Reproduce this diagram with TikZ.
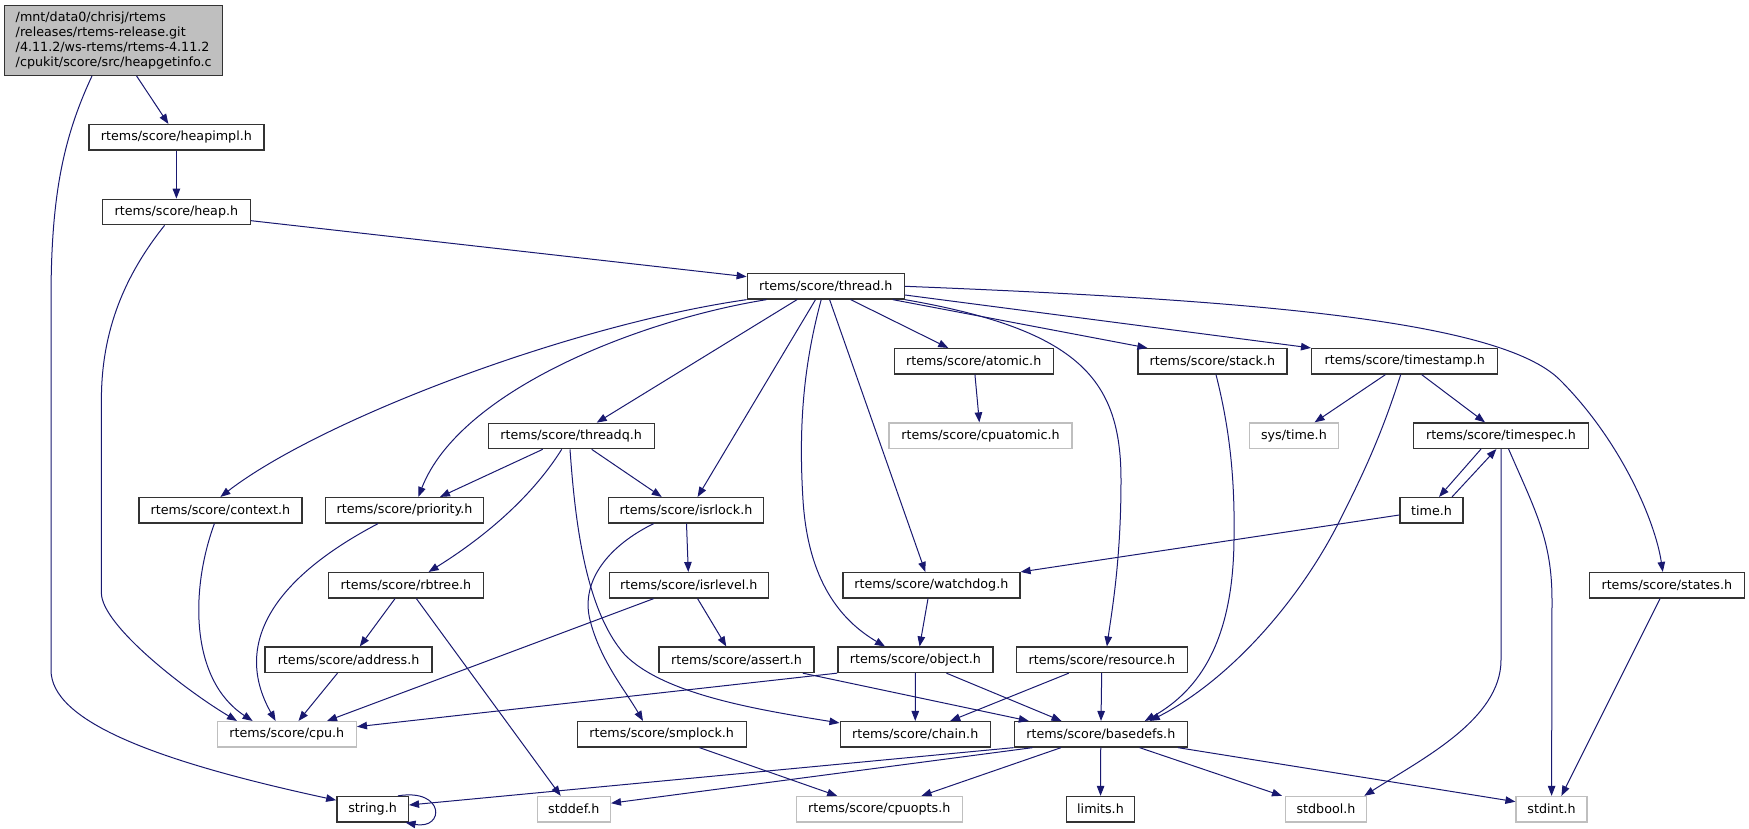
\documentclass[tikz,border=0pt]{standalone}
\usepackage{fontspec}
\setmainfont{DejaVu Sans}
\usetikzlibrary{arrows.meta}
\definecolor{edgeblue}{RGB}{25,25,112}
\definecolor{grey75}{RGB}{191,191,191}
\begin{document}
\begin{tikzpicture}[
		x=1pt, y=-1pt,
		file/.style={draw=black!80, line width=1.4pt, minimum height=25.3pt, inner sep=0pt,
				font=\fontsize{12.7}{14.8}\selectfont},
		sysfile/.style={file, draw=grey75},
		dep/.style={draw=edgeblue, line width=1pt, -{Triangle[length=10pt,width=7.5pt]}}
	]
	\useasboundingbox (0,0) rectangle (1749,829);

	\node[file, fill=grey75, minimum width=218pt, minimum height=69.6pt, align=left] (main) at (113.7,40.5)
	{/mnt/data0/chrisj/rtems\\/releases/rtems-release.git\\/4.11.2/ws-rtems/rtems-4.11.2\\/cpukit/score/src/heapgetinfo.c};
	\node[file, minimum width=175pt] (heapimpl) at (176.4,137.3) {rtems/score/heapimpl.h};
	\node[file, minimum width=148pt] (heap) at (176.4,212) {rtems/score/heap.h};
	\node[file, minimum width=157pt] (thread) at (825.8,286.3) {rtems/score/thread.h};
	\node[file, minimum width=159pt] (atomic) at (973.7,361.3) {rtems/score/atomic.h};
	\node[file, minimum width=149pt] (stack) at (1212.4,361.3) {rtems/score/stack.h};
	\node[file, minimum width=186pt] (timestamp) at (1404.7,361.3) {rtems/score/timestamp.h};
	\node[file, minimum width=166pt] (threadq) at (571.2,436) {rtems/score/threadq.h};
	\node[sysfile, minimum width=183pt] (cpuatomic) at (980.6,435.7) {rtems/score/cpuatomic.h};
	\node[sysfile, minimum width=89pt] (systime) at (1293.9,435.7) {sys/time.h};
	\node[file, minimum width=175pt] (timespec) at (1501,435.7) {rtems/score/timespec.h};
	\node[file, minimum width=163pt] (context) at (220.4,510.3) {rtems/score/context.h};
	\node[file, minimum width=158pt] (priority) at (404.5,510.3) {rtems/score/priority.h};
	\node[file, minimum width=155pt] (isrlock) at (686,510.3) {rtems/score/isrlock.h};
	\node[file, minimum width=63pt] (timeh) at (1431.5,510.3) {time.h};
	\node[file, minimum width=155pt] (rbtree) at (405.9,585.3) {rtems/score/rbtree.h};
	\node[file, minimum width=159pt] (isrlevel) at (688.8,585.3) {rtems/score/isrlevel.h};
	\node[file, minimum width=177pt] (watchdog) at (931.4,585.3) {rtems/score/watchdog.h};
	\node[file, minimum width=155pt] (states) at (1666.8,585.3) {rtems/score/states.h};
	\node[file, minimum width=167pt] (address) at (348.6,659.8) {rtems/score/address.h};
	\node[file, minimum width=155pt] (assert) at (736.6,659.8) {rtems/score/assert.h};
	\node[file, minimum width=155pt] (object) at (915.4,659.8) {rtems/score/object.h};
	\node[file, minimum width=171pt] (resource) at (1101.9,659.8) {rtems/score/resource.h};
	\node[sysfile, minimum width=139pt] (cpu) at (286.8,734.3) {rtems/score/cpu.h};
	\node[file, minimum width=169pt] (smplock) at (661.7,734.3) {rtems/score/smplock.h};
	\node[file, minimum width=150pt] (chain) at (915.2,734.3) {rtems/score/chain.h};
	\node[file, minimum width=173pt] (basedefs) at (1100.8,734.3) {rtems/score/basedefs.h};
	\node[file, minimum width=71.5pt] (string) at (372.6,809.2) {string.h};
	\node[sysfile, minimum width=73pt] (stddef) at (573.8,809.2) {stddef.h};
	\node[sysfile, minimum width=166pt] (cpuopts) at (879.2,809.2) {rtems/score/cpuopts.h};
	\node[file, minimum width=68pt] (limits) at (1100.5,809.2) {limits.h};
	\node[sysfile, minimum width=81pt] (stdbool) at (1326,809.2) {stdbool.h};
	\node[sysfile, minimum width=71pt] (stdint) at (1551.6,809.2) {stdint.h};

	\draw[dep] ([xshift=22.9pt]main.south) -- ([xshift=-8pt]heapimpl.north);
	\draw[dep] ([xshift=-21.7pt]main.south) .. controls (62,140) and (51,200) .. (51,300) -- (51,670)
		.. controls (51,720) and (150,760) .. ([yshift=9pt]string.west);
	\draw[dep] (heapimpl) -- (heap);
	\draw[dep] ([xshift=-11.8pt]heap.south) .. controls (125,275) and (101.4,330) .. (101.4,400) -- (101.4,593)
		.. controls (101.4,625) and (185,690) .. ([xshift=-49.8pt]cpu.north);
	\draw[dep] ([yshift=-8.7pt]heap.east) -- ([yshift=9.6pt]thread.west);

	\draw[dep] (thread.south west) .. controls (570,325) and (320,420) .. (context.north);
	\draw[dep] ([xshift=-59.3pt]thread.south) .. controls (640,320) and (460,390) .. ([xshift=13.8pt]priority.north);
	\draw[dep] ([xshift=-28.8pt]thread.south) -- ([xshift=25.5pt]threadq.north);
	\draw[dep] ([xshift=-10.3pt]thread.south) -- ([xshift=11.6pt]isrlock.north);
	\draw[dep] ([xshift=-4.6pt]thread.south) .. controls (805,360) and (798,420) .. (803,500)
		.. controls (808,580) and (840,620) .. ([xshift=-30.4pt]object.north);
	\draw[dep] ([xshift=3.8pt]thread.south) -- ([xshift=-6.1pt]watchdog.north);
	\draw[dep] ([xshift=24.9pt]thread.south) -- ([xshift=-25.4pt]atomic.north);
	\draw[dep] (thread.south east) .. controls (1080,330) and (1121,380) .. (1121,480)
		.. controls (1121,560) and (1112,610) .. ([xshift=5pt]resource.north);
	\draw[dep] ([xshift=67pt]thread.south) -- ([xshift=-65pt]stack.north);
	\draw[dep] ([yshift=-8.7pt]thread.east) -- (timestamp.north west);
	\draw[dep] (thread.east) .. controls (1250,300) and (1500,320) .. (1560,380)
		.. controls (1620,440) and (1655,520) .. ([xshift=-4pt]states.north);

	\draw[dep] (atomic) -- (cpuatomic);
	\draw[dep] ([xshift=-28.5pt]threadq.south) -- ([xshift=35.5pt]priority.north);
	\draw[dep] ([xshift=20.5pt]threadq.south) -- ([xshift=-24.3pt]isrlock.north);
	\draw[dep] ([xshift=-9.5pt]threadq.south) .. controls (530,500) and (480,540) .. ([xshift=22.7pt]rbtree.north);
	\draw[dep] ([xshift=-1.2pt]threadq.south) .. controls (575,520) and (585,610) .. (625,655)
		.. controls (665,695) and (760,710) .. ([yshift=-2pt]chain.north west);
	\draw[dep] ([xshift=-6pt]context.south) .. controls (190,590) and (190,680) .. ([xshift=-34.2pt]cpu.north);
	\draw[dep] ([xshift=-26.5pt]priority.south) .. controls (280,575) and (230,640) .. ([xshift=-11.2pt]cpu.north);
	\draw[dep] (isrlock) -- (isrlevel);
	\draw[dep] ([xshift=-32.4pt]isrlock.south) .. controls (610,545) and (580,580) .. (590,620)
		.. controls (600,660) and (625,690) .. ([xshift=-18.7pt]smplock.north);

	\draw[dep] ([xshift=-10.9pt]rbtree.south) -- ([xshift=11.2pt]address.north);
	\draw[dep] ([xshift=10.5pt]rbtree.south) -- ([xshift=-13.1pt]stddef.north);
	\draw[dep] ([xshift=-11.1pt]address.south) -- ([xshift=11.7pt]cpu.north);
	\draw[dep] ([xshift=-35.2pt]isrlevel.south) -- ([xshift=40.2pt]cpu.north);
	\draw[dep] ([xshift=8.8pt]isrlevel.south) -- ([xshift=-10.3pt]assert.north);
	\draw[dep] ([xshift=66.2pt]assert.south) -- ([xshift=-72pt]basedefs.north);
	\draw[dep] ([xshift=-3.4pt]watchdog.south) -- ([xshift=4.2pt]object.north);
	\draw[dep] (object.south west) -- ([yshift=7.6pt]cpu.east);
	\draw[dep] (object) -- (chain);
	\draw[dep] ([xshift=31pt]object.south) -- ([xshift=-39.3pt]basedefs.north);
	\draw[dep] ([xshift=-33.1pt]resource.south) -- ([xshift=35pt]chain.north);
	\draw[dep] (resource) -- (basedefs);
	\draw[dep] ([xshift=3.6pt]stack.south) .. controls (1230,430) and (1235,480) .. (1234,540)
		.. controls (1233,640) and (1200,690) .. ([xshift=44pt]basedefs.north);

	\draw[dep] ([xshift=-19.3pt]timestamp.south) -- ([xshift=20.7pt]systime.north);
	\draw[dep] ([xshift=17pt]timestamp.south) -- ([xshift=-16pt]timespec.north);
	\draw[dep] ([xshift=-4pt]timestamp.south) .. controls (1380,440) and (1360,480) .. (1340,520)
		.. controls (1300,600) and (1230,680) .. ([xshift=49pt]basedefs.north);
	\draw[dep] ([xshift=-20pt]timespec.south) -- ([xshift=7.5pt]timeh.north);
	\draw[dep] ([xshift=20.5pt]timeh.north) -- ([xshift=-4.6pt]timespec.south);
	\draw[dep] ([yshift=-4.7pt]timeh.west) -- (watchdog.north east);
	\draw[dep] (timespec.south) -- (1501,660) .. controls (1501,720) and (1420,760) .. ([xshift=38.3pt]stdbool.north);
	\draw[dep] ([xshift=7.6pt]timespec.south) .. controls (1535,510) and (1552,540) .. (1552,600) -- (stdint.north);
	\draw[dep] ([xshift=-6.8pt]states.south) -- ([xshift=9.8pt]stdint.north);

	\draw[dep] ([xshift=37.8pt]smplock.south) -- ([xshift=-42pt]cpuopts.north);
	\draw[dep] (basedefs.south west) -- ([yshift=4.2pt]string.east);
	\draw[dep] ([xshift=-68.3pt]basedefs.south) -- ([yshift=6pt]stddef.east);
	\draw[dep] ([xshift=-39.8pt]basedefs.south) -- ([xshift=42.3pt]cpuopts.north);
	\draw[dep] (basedefs) -- (limits);
	\draw[dep] ([xshift=38.8pt]basedefs.south) -- ([xshift=-44pt]stdbool.north);
	\draw[dep] ([xshift=77.2pt]basedefs.south) -- ([yshift=7.5pt]stdint.west);
	\draw[dep] ([xshift=25.4pt]string.north) .. controls (445,788) and (445,830) .. ([xshift=33pt]string.south);
\end{tikzpicture}
\end{document}
